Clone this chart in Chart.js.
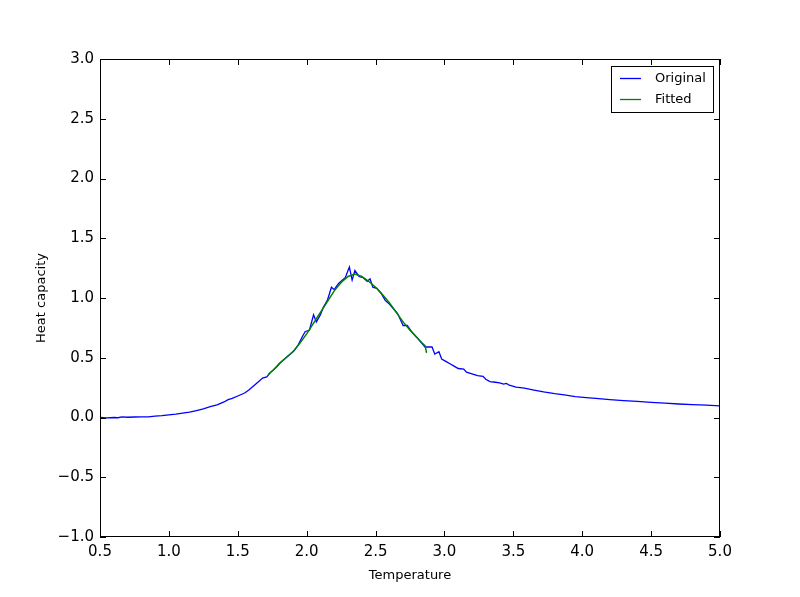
<!DOCTYPE html>
<html>
<head>
<meta charset="utf-8">
<script src="https://cdn.jsdelivr.net/npm/chart.js@4.4.1/dist/chart.umd.min.js"></script>
<style>
  html, body { margin: 0; padding: 0; background: #ffffff; }
  #wrap { width: 800px; height: 597px; }
</style>
</head>
<body>
<div id="wrap"><canvas id="c" width="800" height="597"></canvas></div>
<script>
const temperature = [0.50,0.55,0.60,0.63,0.66,0.70,0.75,0.80,0.85,0.90,0.95,1.00,1.05,1.10,1.15,1.20,1.25,1.30,1.35,1.40,1.43,1.46,1.50,1.55,1.58,1.61,1.65,1.68,1.71,1.74,1.78,1.81,1.85,1.88,1.91,1.94,1.97,1.99,2.02,2.05,2.07,2.10,2.12,2.15,2.18,2.20,2.23,2.26,2.28,2.31,2.33,2.35,2.38,2.41,2.44,2.46,2.48,2.51,2.54,2.57,2.60,2.63,2.66,2.68,2.70,2.73,2.76,2.80,2.83,2.86,2.89,2.91,2.93,2.96,2.98,3.01,3.04,3.07,3.10,3.14,3.16,3.20,3.24,3.28,3.30,3.33,3.37,3.40,3.43,3.45,3.47,3.52,3.58,3.65,3.72,3.80,3.87,3.95,4.05,4.10,4.20,4.30,4.40,4.50,4.60,4.70,4.80,4.90,5.00];
const heatCapacity = [0.000,-0.003,0.000,-0.002,0.006,0.002,0.004,0.005,0.006,0.012,0.015,0.022,0.028,0.036,0.045,0.058,0.072,0.090,0.105,0.130,0.150,0.160,0.180,0.205,0.230,0.260,0.300,0.330,0.340,0.380,0.420,0.460,0.500,0.530,0.560,0.610,0.680,0.720,0.730,0.860,0.800,0.860,0.920,0.980,1.090,1.070,1.120,1.150,1.170,1.260,1.150,1.230,1.180,1.170,1.140,1.160,1.090,1.080,1.040,0.980,0.950,0.910,0.870,0.820,0.770,0.770,0.720,0.670,0.630,0.590,0.590,0.590,0.530,0.550,0.490,0.470,0.450,0.430,0.410,0.405,0.380,0.365,0.350,0.345,0.320,0.300,0.295,0.290,0.280,0.285,0.270,0.255,0.245,0.230,0.215,0.200,0.190,0.175,0.165,0.160,0.150,0.142,0.135,0.127,0.120,0.113,0.108,0.103,0.098];
const fitTemperature = [1.72,1.76,1.80,1.85,1.90,1.95,2.00,2.05,2.10,2.15,2.20,2.25,2.30,2.35,2.40,2.45,2.50,2.55,2.60,2.65,2.70,2.75,2.80,2.84,2.86,2.87];
const fitHeatCapacity = [0.36,0.40,0.45,0.50,0.55,0.62,0.70,0.79,0.88,0.97,1.06,1.13,1.18,1.20,1.18,1.14,1.09,1.03,0.96,0.88,0.80,0.73,0.67,0.62,0.60,0.54];
const xTicks = [0.5,1.0,1.5,2.0,2.5,3.0,3.5,4.0,4.5,5.0];
const yTicks = [-1.0,-0.5,0.0,0.5,1.0,1.5,2.0,2.5,3.0];
const seriesNames = ['Original','Fitted'];
const seriesColors = ['#0000ff','#008000'];

const FONT = 'DejaVu Sans';
const fmt = v => v.toFixed(1).replace('-', '\u2212');

const frameTicks = {
  id: 'frameTicks',
  afterDraw(chart) {
    const {ctx, chartArea: a, scales: {x, y}} = chart;
    ctx.save();
    ctx.strokeStyle = '#000';
    ctx.lineWidth = 1;
    ctx.strokeRect(Math.round(a.left) + 0.5, Math.round(a.top) + 0.5, Math.round(a.right - a.left) - 1, Math.round(a.bottom - a.top) - 1);
    const L = 6;
    ctx.beginPath();
    xTicks.forEach(v => {
      const px = Math.round(x.getPixelForValue(v)) + 0.5;
      ctx.moveTo(px, a.bottom); ctx.lineTo(px, a.bottom - L);
      ctx.moveTo(px, a.top); ctx.lineTo(px, a.top + L);
    });
    yTicks.forEach(v => {
      const py = Math.round(y.getPixelForValue(v)) + 0.5;
      ctx.moveTo(a.left, py); ctx.lineTo(a.left + L, py);
      ctx.moveTo(a.right, py); ctx.lineTo(a.right - L, py);
    });
    ctx.stroke();
    // legend
    const bx = 611.5, by = 66.5, bw = 102, bh = 46;
    ctx.fillStyle = '#fff';
    ctx.fillRect(bx, by, bw, bh);
    ctx.strokeRect(bx, by, bw, bh);
    ctx.font = '13px "' + FONT + '"';
    ctx.textBaseline = 'middle';
    ctx.textAlign = 'left';
    seriesNames.forEach((name, i) => {
      const ly = 78.5 + i * 21;
      ctx.strokeStyle = seriesColors[i];
      ctx.lineWidth = 1.3;
      ctx.beginPath(); ctx.moveTo(620, ly); ctx.lineTo(641, ly); ctx.stroke();
      ctx.fillStyle = '#000';
      ctx.fillText(name, 655, ly);
    });
    ctx.restore();
  }
};

new Chart(document.getElementById('c'), {
  type: 'line',
  data: {
    datasets: [
      { label: seriesNames[0], order: 2, data: temperature.map((t, i) => ({x: t, y: heatCapacity[i]})),
        borderColor: seriesColors[0], borderWidth: 1.3, pointRadius: 0, tension: 0, fill: false },
      { label: seriesNames[1], order: 1, data: fitTemperature.map((t, i) => ({x: t, y: fitHeatCapacity[i]})),
        borderColor: seriesColors[1], borderWidth: 1.5, pointRadius: 0, tension: 0, fill: false }
    ]
  },
  options: {
    responsive: false,
    animation: false,
    devicePixelRatio: 1,
    layout: { padding: { top: 59, right: 80, left: 0, bottom: 0 } },
    plugins: { legend: { display: false }, tooltip: { enabled: false } },
    scales: {
      x: {
        type: 'linear', min: 0.5, max: 5.0,
        afterBuildTicks: s => { s.ticks = xTicks.map(v => ({value: v})); },
        afterFit: s => { s.height = 60; },
        grid: { display: false, drawTicks: false },
        border: { display: false },
        ticks: { color: '#000', font: { family: FONT, size: 15 }, padding: 6, callback: v => fmt(v), maxRotation: 0, autoSkip: false },
        title: { display: true, text: 'Temperature', color: '#000', font: { family: FONT, size: 13 }, padding: { top: 0, bottom: 14 } }
      },
      y: {
        type: 'linear', min: -1, max: 3,
        afterBuildTicks: s => { s.ticks = yTicks.map(v => ({value: v})); },
        afterFit: s => { s.width = 100; },
        grid: { display: false, drawTicks: false },
        border: { display: false },
        ticks: { color: '#000', font: { family: FONT, size: 15 }, padding: 6, callback: v => fmt(v), autoSkip: false },
        title: { display: true, text: 'Heat capacity', color: '#000', font: { family: FONT, size: 13 }, padding: { top: 34, bottom: 0 } }
      }
    }
  },
  plugins: [frameTicks]
});
</script>
</body>
</html>
